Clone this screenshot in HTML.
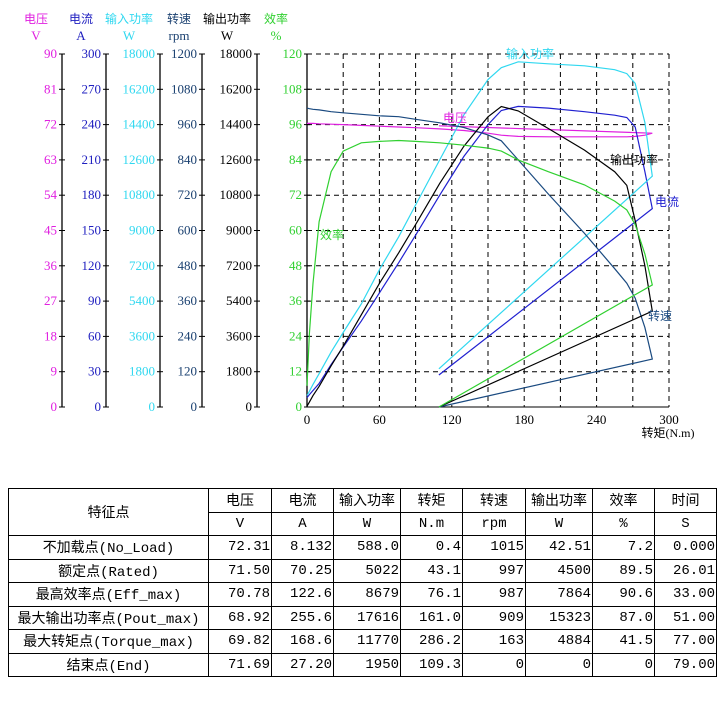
<!DOCTYPE html>
<html><head><meta charset="utf-8">
<style>
body{margin:0;background:#fff;width:727px;height:704px;overflow:hidden;font-family:"Liberation Serif","Noto Sans CJK SC",serif;}
svg{position:absolute;left:0;top:0}
table{position:absolute;left:8px;top:488px;border-collapse:collapse;font-family:"Liberation Mono","Noto Sans CJK SC",monospace;font-size:14px;}
td{border:1px solid #000;height:22.5px;padding:0 1px;text-align:right;white-space:nowrap;overflow:hidden}
td.c{text-align:center}
</style></head><body>
<svg id="chart" width="727" height="480"></svg>
<table>
<colgroup><col style="width:200px"><col style="width:63px"><col style="width:62px"><col style="width:67px"><col style="width:62px"><col style="width:63px"><col style="width:67px"><col style="width:62px"><col style="width:62px"></colgroup>
<tr><td class="c" rowspan="2">特征点</td><td class="c">电压</td><td class="c">电流</td><td class="c">输入功率</td><td class="c">转矩</td><td class="c">转速</td><td class="c">输出功率</td><td class="c">效率</td><td class="c">时间</td></tr>
<tr><td class="c">V</td><td class="c">A</td><td class="c">W</td><td class="c">N.m</td><td class="c">rpm</td><td class="c">W</td><td class="c">%</td><td class="c">S</td></tr>
<tr><td class="c">不加载点(No_Load)</td><td>72.31</td><td>8.132</td><td>588.0</td><td>0.4</td><td>1015</td><td>42.51</td><td>7.2</td><td>0.000</td></tr>
<tr><td class="c">额定点(Rated)</td><td>71.50</td><td>70.25</td><td>5022</td><td>43.1</td><td>997</td><td>4500</td><td>89.5</td><td>26.01</td></tr>
<tr><td class="c">最高效率点(Eff_max)</td><td>70.78</td><td>122.6</td><td>8679</td><td>76.1</td><td>987</td><td>7864</td><td>90.6</td><td>33.00</td></tr>
<tr><td class="c">最大输出功率点(Pout_max)</td><td>68.92</td><td>255.6</td><td>17616</td><td>161.0</td><td>909</td><td>15323</td><td>87.0</td><td>51.00</td></tr>
<tr><td class="c">最大转矩点(Torque_max)</td><td>69.82</td><td>168.6</td><td>11770</td><td>286.2</td><td>163</td><td>4884</td><td>41.5</td><td>77.00</td></tr>
<tr><td class="c">结束点(End)</td><td>71.69</td><td>27.20</td><td>1950</td><td>109.3</td><td>0</td><td>0</td><td>0</td><td>79.00</td></tr>
</table>
<script>
const torque=[0,2,5,10,20,30,45,60,76,90,110,130,150,161,175,200,230,255,265,272,280,286.2,109.3];
const voltage=[72.3,72.3,72.3,72.2,72.1,72.0,71.8,71.6,71.4,71.2,70.9,70.5,69.8,69.3,69.0,68.9,68.9,68.9,68.9,69.0,69.3,69.8,71.7];
const current=[8,10.5,14,20,36,51,73,97,122.6,146,180,213,240,252,255.5,254,251,248,246,238,200,168.6,27.2];
const inputPower=[588,800,1150,1700,2800,3800,5250,7000,8679,10300,12600,14900,16700,17300,17600,17500,17400,17200,17000,16500,14500,11770,1950];
const speed=[1016,1014,1012,1010,1004,1000,995,990,987,978,966,950,925,905,840,724,590,470,421,370,270,163,0];
const outputPower=[42,250,580,1050,2100,3100,4700,6300,7864,9300,11400,13300,14800,15323,15100,14200,13100,12000,11300,9500,7200,4884,0];
const efficiency=[7.2,25,42,63,80,87,89.8,90.3,90.6,90.3,89.8,89,88,87,84,80,75.5,70,67,62,52,41.5,0];
const xTicks=[0,60,120,180,240,300];
const axVoltage=[0,9,18,27,36,45,54,63,72,81,90];
const axCurrent=[0,30,60,90,120,150,180,210,240,270,300];
const axInput=[0,1800,3600,5400,7200,9000,10800,12600,14400,16200,18000];
const axSpeed=[0,120,240,360,480,600,720,840,960,1080,1200];
const axOutput=[0,1800,3600,5400,7200,9000,10800,12600,14400,16200,18000];
const axEff=[0,12,24,36,48,60,72,84,96,108,120];

const svg=document.getElementById('chart');
const NS='http://www.w3.org/2000/svg';
const X0=307,X1=669,Y0=407,Y1=54;
const xs=t=>X0+t/300*(X1-X0);
const ys=(v,m)=>Y0-v/m*(Y0-Y1);
function mk(tag,attrs,parent){const e=document.createElementNS(NS,tag);for(const k in attrs)e.setAttribute(k,attrs[k]);(parent||svg).appendChild(e);return e;}
function txt(x,y,s,fill,anchor,size){const e=mk('text',{x:x,y:y,fill:fill,'text-anchor':anchor||'middle','font-size':size||12,'font-family':'"Liberation Serif","Noto Sans CJK SC",serif'});e.textContent=s;return e;}

for(let i=1;i<=10;i++){const y=ys(i,10);const g=mk('line',{x1:X0,x2:X1,y1:y,y2:y,stroke:'#000','stroke-dasharray':'5,4','stroke-width':1});

}
for(let i=1;i<=10;i++){const x=xs(i*30);const g=mk('line',{x1:x,x2:x,y1:Y1,y2:Y0,stroke:'#000','stroke-dasharray':'5,4','stroke-width':1});

}
mk('line',{x1:X0,x2:X1,y1:Y0,y2:Y0,stroke:'#000'});
mk('line',{x1:X0,x2:X0,y1:Y1,y2:Y0,stroke:'#000'});
xTicks.forEach(t=>{const e=txt(xs(t),424,String(t),'#000','middle',13);

});
const xt=txt(668,437,'转矩(N.m)','#000','middle',12);



const axes=[
 {vals:axVoltage,x:62,c:'#e020e0',n:'电压',u:'V',hx:36,name:'voltage-axis'},
 {vals:axCurrent,x:106,c:'#2020c0',n:'电流',u:'A',hx:81,name:'current-axis'},
 {vals:axInput,x:160,c:'#30d8f0',n:'输入功率',u:'W',hx:129,name:'input-power-axis'},
 {vals:axSpeed,x:202,c:'#1a4070',n:'转速',u:'rpm',hx:179,name:'speed-axis'},
 {vals:axOutput,x:257,c:'#000',n:'输出功率',u:'W',hx:227,name:'output-power-axis'},
 {vals:axEff,x:307,c:'#30d030',n:'效率',u:'%',hx:276,name:'efficiency-axis'}];
axes.forEach(a=>{
 const g=mk('g',{});
 
 
 mk('line',{x1:a.x,x2:a.x,y1:Y1,y2:Y0,stroke:'#000','stroke-width':1.3},g);
 const m=a.vals[a.vals.length-1];
 a.vals.forEach(v=>{const y=ys(v,m);mk('line',{x1:a.x-3,x2:a.x+3,y1:y,y2:y,stroke:'#000'},g);
  const e=txt(a.x-5,y+4,String(v),a.c,'end',13);g.appendChild(e);});
 g.appendChild(txt(a.hx,23,a.n,a.c,'middle',12));
 g.appendChild(txt(a.hx,40,a.u,a.c,'middle',13));
});

const series=[
 {d:voltage,m:90,c:'#e020e0',name:'voltage-line'},
 {d:current,m:300,c:'#2020d0',name:'current-line'},
 {d:inputPower,m:18000,c:'#30d8f0',name:'input-power-line'},
 {d:speed,m:1200,c:'#1a4a80',name:'speed-line'},
 {d:outputPower,m:18000,c:'#000',name:'output-power-line'},
 {d:efficiency,m:120,c:'#30d030',name:'efficiency-line'}];
series.forEach(s=>{
 const pts=torque.map((t,i)=>xs(t).toFixed(1)+','+ys(s.d[i],s.m).toFixed(1)).join(' ');
 const p=mk('polyline',{points:pts,fill:'none',stroke:s.c,'stroke-width':1.2});
 
 
});
const labels=[['输入功率',530,58,'#30d8f0','input-power-label'],['电压',455,122,'#e020e0','voltage-label'],['输出功率',634,164,'#000','output-power-label'],['电流',667,206,'#2020d0','current-label'],['效率',332,239,'#30d030','efficiency-label'],['转速',660,320,'#1a4a80','speed-label']];
labels.forEach(l=>{const e=txt(l[1],l[2],l[0],l[3],'middle',12);

});
</script>
</body></html>
